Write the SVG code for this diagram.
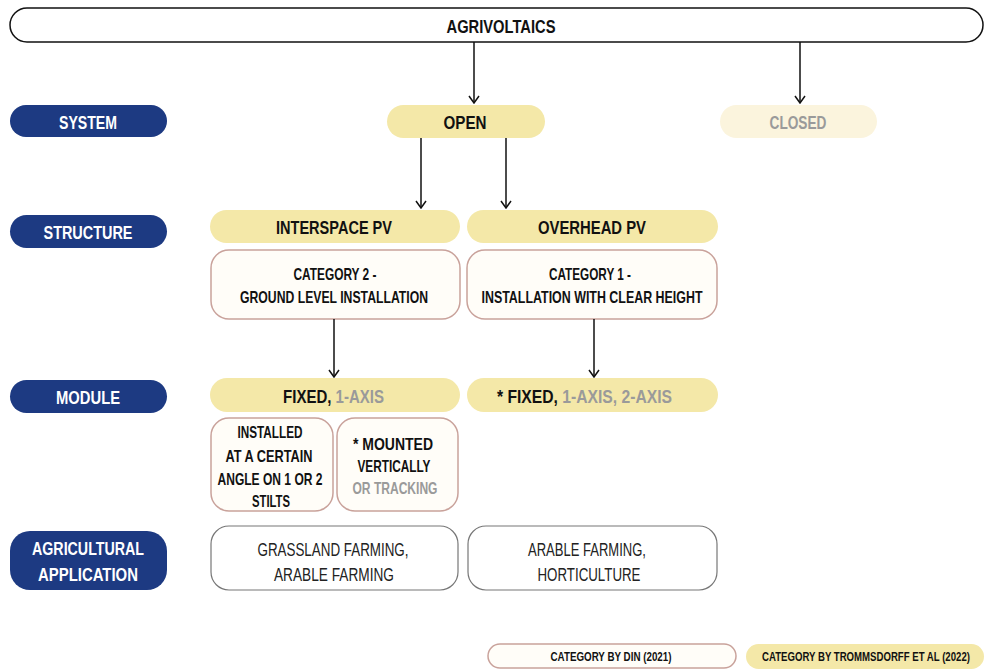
<svg xmlns="http://www.w3.org/2000/svg" width="985" height="670" viewBox="0 0 985 670">
<style>
text{font-family:"Liberation Sans","DejaVu Sans",sans-serif;text-anchor:middle;}
.b{font-weight:bold;fill:#111;}
.w{font-weight:bold;fill:#fff;}
.r{font-weight:normal;fill:#222;}
.g{fill:#9a9a9a;}
.navy{fill:#1d3a82;}
.yel{fill:#f4e8a8;}
.pale{fill:#fbf4dd;}
.din{fill:#fffdf8;stroke:#c9a29b;stroke-width:1.5;}
.app{fill:#fff;stroke:#777;stroke-width:1.2;}
.conn line{stroke:#111;stroke-width:1.5;fill:none;}
</style>
<defs>
<marker id="ah" viewBox="0 0 12 12" refX="11" refY="6" markerWidth="12" markerHeight="12" markerUnits="userSpaceOnUse" orient="auto">
<polyline points="4,1 11,6 4,11" fill="none" stroke="#111" stroke-width="1.5"/>
</marker>
</defs>
<rect width="985" height="670" fill="#fff"/>

<g id="agrivoltaics">
<rect x="10" y="8" width="973" height="34" rx="17" fill="#fff" stroke="#111" stroke-width="1.5"/>
<text class="b" x="501" y="33" font-size="19" textLength="109" lengthAdjust="spacingAndGlyphs">AGRIVOLTAICS</text>
</g>

<g id="lbl-system">
<rect class="navy" x="10" y="105" width="157" height="32" rx="16"/>
<text class="w" x="88" y="129" font-size="19" textLength="58" lengthAdjust="spacingAndGlyphs">SYSTEM</text>
</g>
<g id="open">
<rect class="yel" x="387" y="105" width="158" height="33" rx="16.5"/>
<text class="b" x="465" y="129" font-size="19" textLength="43" lengthAdjust="spacingAndGlyphs">OPEN</text>
</g>
<g id="closed">
<rect class="pale" x="720" y="105" width="157" height="33" rx="16.5"/>
<text class="b g" x="798" y="129" font-size="19" textLength="57" lengthAdjust="spacingAndGlyphs">CLOSED</text>
</g>

<g id="lbl-structure">
<rect class="navy" x="10" y="215" width="157" height="33" rx="16.5"/>
<text class="w" x="88" y="239" font-size="19" textLength="89" lengthAdjust="spacingAndGlyphs">STRUCTURE</text>
</g>
<g id="interspace">
<rect class="yel" x="210" y="210" width="250" height="33" rx="16.5"/>
<text class="b" x="334" y="234" font-size="19" textLength="116" lengthAdjust="spacingAndGlyphs">INTERSPACE PV</text>
</g>
<g id="overhead">
<rect class="yel" x="467" y="210" width="251" height="33" rx="16.5"/>
<text class="b" x="592" y="234" font-size="19" textLength="108" lengthAdjust="spacingAndGlyphs">OVERHEAD PV</text>
</g>
<g id="cat2">
<rect class="din" x="211" y="250" width="249" height="69" rx="18"/>
<text class="b" x="335" y="280" font-size="16.5" textLength="83" lengthAdjust="spacingAndGlyphs">CATEGORY 2 -</text>
<text class="b" x="334" y="303" font-size="16.5" textLength="188" lengthAdjust="spacingAndGlyphs">GROUND LEVEL INSTALLATION</text>
</g>
<g id="cat1">
<rect class="din" x="467" y="250" width="250" height="69" rx="18"/>
<text class="b" x="590" y="280" font-size="16.5" textLength="82" lengthAdjust="spacingAndGlyphs">CATEGORY 1 -</text>
<text class="b" x="592" y="303" font-size="16.5" textLength="221" lengthAdjust="spacingAndGlyphs">INSTALLATION WITH CLEAR HEIGHT</text>
</g>

<g id="lbl-module">
<rect class="navy" x="10" y="380" width="157" height="33" rx="16.5"/>
<text class="w" x="88" y="404" font-size="19" textLength="64" lengthAdjust="spacingAndGlyphs">MODULE</text>
</g>
<g id="module-left">
<rect class="yel" x="210" y="378" width="250" height="34" rx="17"/>
<text class="b" transform="translate(333.5,403) scale(0.79,1)" x="0" y="0" font-size="19">FIXED, <tspan class="g">1-AXIS</tspan></text>
</g>
<g id="module-right">
<rect class="yel" x="467" y="378" width="251" height="34" rx="17"/>
<text class="b" transform="translate(584.5,403) scale(0.825,1)" x="0" y="0" font-size="19">* FIXED, <tspan class="g">1-AXIS, 2-AXIS</tspan></text>
</g>
<g id="installed">
<rect class="din" x="211" y="418" width="122" height="93" rx="18"/>
<text class="b" x="270" y="438" font-size="16.5" textLength="65" lengthAdjust="spacingAndGlyphs">INSTALLED</text>
<text class="b" x="269" y="462" font-size="16.5" textLength="87" lengthAdjust="spacingAndGlyphs">AT A CERTAIN</text>
<text class="b" x="270" y="485" font-size="16.5" textLength="105" lengthAdjust="spacingAndGlyphs">ANGLE ON 1 OR 2</text>
<text class="b" x="271" y="507" font-size="16.5" textLength="38" lengthAdjust="spacingAndGlyphs">STILTS</text>
</g>
<g id="mounted">
<rect class="din" x="337" y="418" width="121" height="93" rx="18"/>
<text class="b" x="393" y="450" font-size="16.5" textLength="80" lengthAdjust="spacingAndGlyphs">* MOUNTED</text>
<text class="b" x="394" y="472" font-size="16.5" textLength="73" lengthAdjust="spacingAndGlyphs">VERTICALLY</text>
<text class="b g" x="395" y="494" font-size="16.5" textLength="85" lengthAdjust="spacingAndGlyphs">OR TRACKING</text>
</g>

<g id="lbl-application">
<rect class="navy" x="10" y="531" width="157" height="59" rx="20"/>
<text class="w" x="88" y="555" font-size="19" textLength="112" lengthAdjust="spacingAndGlyphs">AGRICULTURAL</text>
<text class="w" x="88" y="581" font-size="19" textLength="100" lengthAdjust="spacingAndGlyphs">APPLICATION</text>
</g>
<g id="app-left">
<rect class="app" x="211" y="526" width="247" height="64" rx="18"/>
<text class="r" x="333" y="556" font-size="18" textLength="151" lengthAdjust="spacingAndGlyphs">GRASSLAND FARMING,</text>
<text class="r" x="334" y="581" font-size="18" textLength="120" lengthAdjust="spacingAndGlyphs">ARABLE FARMING</text>
</g>
<g id="app-right">
<rect class="app" x="468" y="526" width="249" height="64" rx="18"/>
<text class="r" x="587" y="556" font-size="18" textLength="118" lengthAdjust="spacingAndGlyphs">ARABLE FARMING,</text>
<text class="r" x="589" y="581" font-size="18" textLength="103" lengthAdjust="spacingAndGlyphs">HORTICULTURE</text>
</g>

<g id="legend-din">
<rect class="din" x="488" y="644" width="248" height="24" rx="12"/>
<text class="b" x="611" y="661" font-size="13" textLength="121" lengthAdjust="spacingAndGlyphs">CATEGORY BY DIN (2021)</text>
</g>
<g id="legend-trommsdorff">
<rect class="yel" x="746" y="644" width="238" height="25" rx="12.5"/>
<text class="b" transform="translate(866,661) scale(0.74,1)" x="0" y="0" font-size="13">CATEGORY BY TROMMSDORFF ET AL (2022)</text>
</g>

<g id="connectors" class="conn">
<line x1="474" y1="42" x2="474" y2="103" marker-end="url(#ah)"/>
<line x1="800" y1="42" x2="800" y2="103" marker-end="url(#ah)"/>
<line x1="421" y1="138" x2="421" y2="208" marker-end="url(#ah)"/>
<line x1="506" y1="138" x2="506" y2="208" marker-end="url(#ah)"/>
<line x1="334" y1="319" x2="334" y2="377" marker-end="url(#ah)"/>
<line x1="594" y1="319" x2="594" y2="377" marker-end="url(#ah)"/>
</g>
</svg>
